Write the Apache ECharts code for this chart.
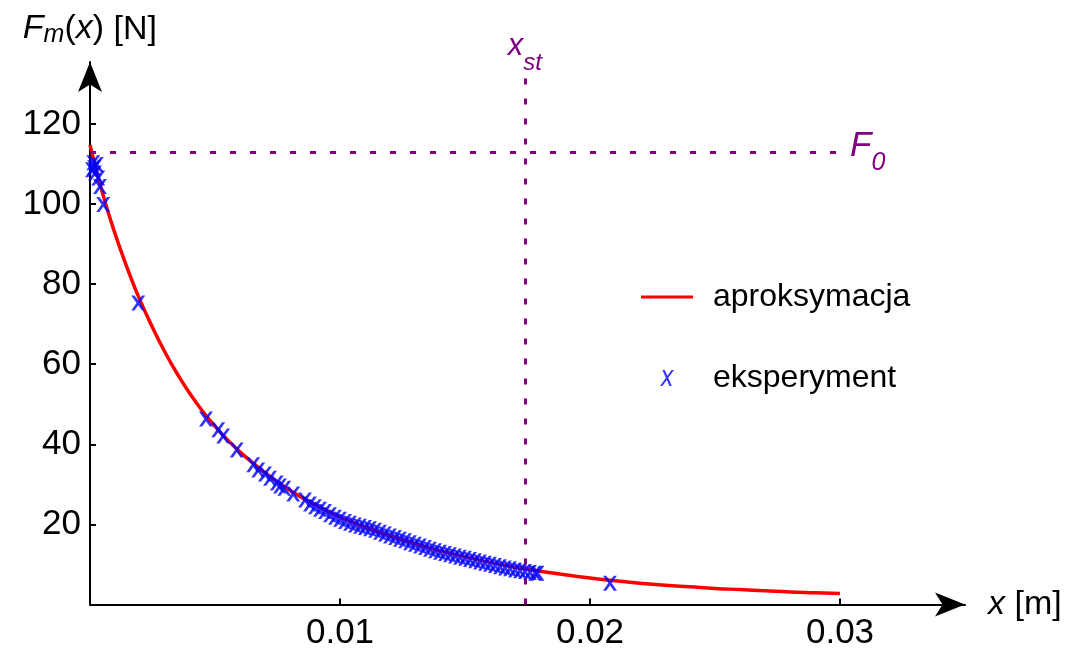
<!DOCTYPE html>
<html>
<head>
<meta charset="utf-8">
<script src="https://cdn.jsdelivr.net/npm/echarts@6/dist/echarts.min.js"></script>
<style>
html,body{margin:0;padding:0;background:#fff;}
#main{width:1071px;height:651px;}
</style>
</head>
<body>
<div id="main"></div>
<script>
// ---- data ----
var fitX = [0, 0.0004, 0.0008, 0.0012, 0.0016, 0.002, 0.0025, 0.003, 0.0035, 0.004, 0.0045, 0.005, 0.0055, 0.006, 0.0065, 0.007, 0.0075, 0.008, 0.0085, 0.009, 0.0095, 0.010, 0.011, 0.012, 0.013, 0.014, 0.015, 0.016, 0.017, 0.018, 0.019, 0.020, 0.021, 0.022, 0.023, 0.024, 0.025, 0.026, 0.027, 0.028, 0.029, 0.030];
var fitY = [114.8, 105, 96.5, 89, 82.2, 76, 69.2, 63, 57.5, 52.6, 48.3, 44.5, 41.1, 38.1, 35.4, 32.9, 30.6, 28.5, 26.6, 24.9, 23.3, 21.8, 19.3, 17.1, 15.2, 13.4, 11.9, 10.5, 9.3, 8.3, 7.4, 6.6, 5.9, 5.3, 4.8, 4.4, 4.0, 3.7, 3.4, 3.1, 2.9, 2.7];

var expX = [0.00008, 0.00013, 0.00016, 0.0002, 0.00027, 0.00033, 0.0004, 0.00053, 0.00193,
  0.00464, 0.00513, 0.00533, 0.00587, 0.00653, 0.00673, 0.0070, 0.0072, 0.00747, 0.0076, 0.00777, 0.00813,
  0.0086, 0.0088, 0.0090, 0.0092, 0.0094, 0.0096, 0.0098, 0.0100, 0.0102, 0.0104, 0.0106,
  0.0108, 0.0110, 0.0112, 0.0114, 0.0116, 0.0118, 0.0120, 0.0122, 0.0124, 0.0126, 0.0128, 0.0130,
  0.0132, 0.0134, 0.0136, 0.0138, 0.0140, 0.0142, 0.0144, 0.0146, 0.0148, 0.0150, 0.0152, 0.0154,
  0.0156, 0.0158, 0.0160, 0.0162, 0.0164, 0.0166, 0.0168, 0.0170, 0.0172, 0.0174, 0.0176, 0.0178, 0.0179,
  0.0208];
var expY = [108.6, 110.3, 109.1, 107.8, 109.9, 106.5, 104.4, 99.9, 75.3,
  46.3, 43.6, 42.1, 38.6, 34.9, 33.6, 32.6, 31.5, 30.3, 29.6, 29.0, 27.6,
  26.1, 25.1, 24.4, 23.8, 23.2, 22.4, 21.8, 21.3, 20.7, 20.3, 19.85,
  19.5, 19.2, 18.9, 18.5, 18.0, 17.6, 17.1, 16.7, 16.3, 15.9, 15.4, 15.0,
  14.6, 14.2, 13.8, 13.4, 13.0, 12.7, 12.4, 12.1, 11.8, 11.5, 11.2, 10.9,
  10.6, 10.3, 10.0, 9.7, 9.4, 9.1, 8.9, 8.6, 8.4, 8.2, 8.0, 7.8, 7.8,
  5.3];

var xTicks = [0.01, 0.02, 0.03];
var yTicks = [20, 40, 60, 80, 100, 120];
var F0 = 113;
var xSt = 0.0174;
var F0LineEnd = 0.03;
var xStLineTop = 132;

// ---- build ----
var fitData = fitX.map(function (x, i) { return [x, fitY[i]]; });
var expData = expX.map(function (x, i) { return [x, expY[i]]; });

var FONT = "'Liberation Sans', Arial, sans-serif";
var PURPLE = '#800080';
var X_MARK = 'path://M0,0L3.2,0L7,5.1L10.8,0L14,0L8.7,7.4L14,15L10.8,15L7,9.8L3.2,15L0,15L5.3,7.4Z';
var X_ITALIC = 'path://M2.2,0L4.4,0L11,15L8.8,15Z M10.8,0L13,0L2.2,15L0,15Z';
var LINE_ICON = 'path://M0,0L52,0L52,3L0,3Z';

var chart = echarts.init(document.getElementById('main'), null, {renderer: 'canvas'});
chart.setOption({
  animation: false,
  backgroundColor: '#ffffff',
  textStyle: {fontFamily: FONT},
  grid: {left: 90, right: 106, top: 62, bottom: 46.6, containLabel: false},
  legend: {
    orient: 'vertical',
    left: 641,
    top: 277,
    padding: 0,
    itemWidth: 52,
    itemHeight: 16,
    itemGap: 41,
    textStyle: {fontSize: 32, color: '#000', fontFamily: FONT, lineHeight: 40, padding: [0, 0, 0, 15]},
    data: [
      {name: 'aproksymacja', icon: LINE_ICON},
      {name: 'eksperyment', icon: X_ITALIC}
    ]
  },
  xAxis: {
    type: 'value',
    min: 0,
    max: 0.035,
    name: '{i|x} [m]',
    nameLocation: 'end',
    nameGap: 23,
    nameTextStyle: {fontSize: 34, color: '#000', fontFamily: FONT,
      rich: {i: {fontSize: 34, fontStyle: 'italic', fontFamily: FONT, color: '#000'}}},
    axisLine: {show: true, onZero: true, symbol: ['none', 'arrow'], symbolSize: [18, 30],
      lineStyle: {color: '#000', width: 2}},
    axisTick: {show: true, inside: true, length: 6, lineStyle: {color: '#000', width: 2}, customValues: xTicks},
    axisLabel: {show: true, fontSize: 35, color: '#000', margin: 11, fontFamily: FONT, customValues: xTicks,
      formatter: function (v) { return String(Number(v.toFixed(4))); }},
    splitLine: {show: false}
  },
  yAxis: {
    type: 'value',
    min: 0,
    max: 135.5,
    name: '{i|F}{s|m}{n|(}{i|x}{n|)} [N]{pad| }',
    nameLocation: 'end',
    nameGap: 14,
    nameTextStyle: {fontSize: 34, color: '#000', fontFamily: FONT,
      rich: {
        i: {fontSize: 34, fontStyle: 'italic', fontFamily: FONT, color: '#000', lineHeight: 34, verticalAlign: 'top'},
        n: {fontSize: 34, fontFamily: FONT, color: '#000', lineHeight: 34, verticalAlign: 'top'},
        s: {fontSize: 25, fontStyle: 'italic', fontFamily: FONT, color: '#000', lineHeight: 25, verticalAlign: 'bottom'},
        pad: {fontSize: 1, lineHeight: 36}
      }},
    axisLine: {show: true, onZero: true, symbol: ['none', 'arrow'], symbolSize: [18, 30],
      lineStyle: {color: '#000', width: 2}},
    axisTick: {show: true, inside: true, length: 6, lineStyle: {color: '#000', width: 2}, customValues: yTicks},
    axisLabel: {show: true, fontSize: 35, color: '#000', margin: 9, fontFamily: FONT, customValues: yTicks},
    splitLine: {show: false}
  },
  series: [
    {
      name: 'aproksymacja',
      type: 'line',
      data: fitData,
      smooth: 0.5,
      showSymbol: false,
      symbol: 'none',
      color: '#ff0000',
      lineStyle: {color: '#ff0000', width: 3.5},
      z: 2,
      markLine: {
        silent: true,
        precision: 6,
        symbol: ['none', 'none'],
        lineStyle: {color: PURPLE, width: 3, type: [6, 14]},
        data: [
          [
            {coord: [0, F0], label: {show: true, position: 'end', distance: 10,
              formatter: '{i|F}{s|0}{pad| }',
              rich: {
                i: {fontSize: 35, fontStyle: 'italic', color: PURPLE, fontFamily: FONT, lineHeight: 35, verticalAlign: 'top'},
                s: {fontSize: 25, fontStyle: 'italic', color: PURPLE, fontFamily: FONT, lineHeight: 25, verticalAlign: 'bottom'},
                pad: {fontSize: 1, lineHeight: 46}
              }}},
            {coord: [F0LineEnd, F0]}
          ],
          [
            {coord: [xSt, 0]},
            {coord: [xSt, xStLineTop], label: {show: true, position: 'end', distance: 1,
              formatter: '{i|x}{s|st}{pad| }',
              rich: {
                i: {fontSize: 31, fontStyle: 'italic', color: PURPLE, fontFamily: FONT, lineHeight: 31, verticalAlign: 'top'},
                s: {fontSize: 24, fontStyle: 'italic', color: PURPLE, fontFamily: FONT, lineHeight: 24, verticalAlign: 'bottom'},
                pad: {fontSize: 1, lineHeight: 44}
              }}}
          ]
        ]
      }
    },
    {
      name: 'eksperyment',
      type: 'scatter',
      data: expData,
      symbol: X_MARK,
      symbolSize: [14, 15],
      color: '#0000ff',
      itemStyle: {color: '#0000ff'},
      z: 3
    }
  ]
});
</script>
</body>
</html>
